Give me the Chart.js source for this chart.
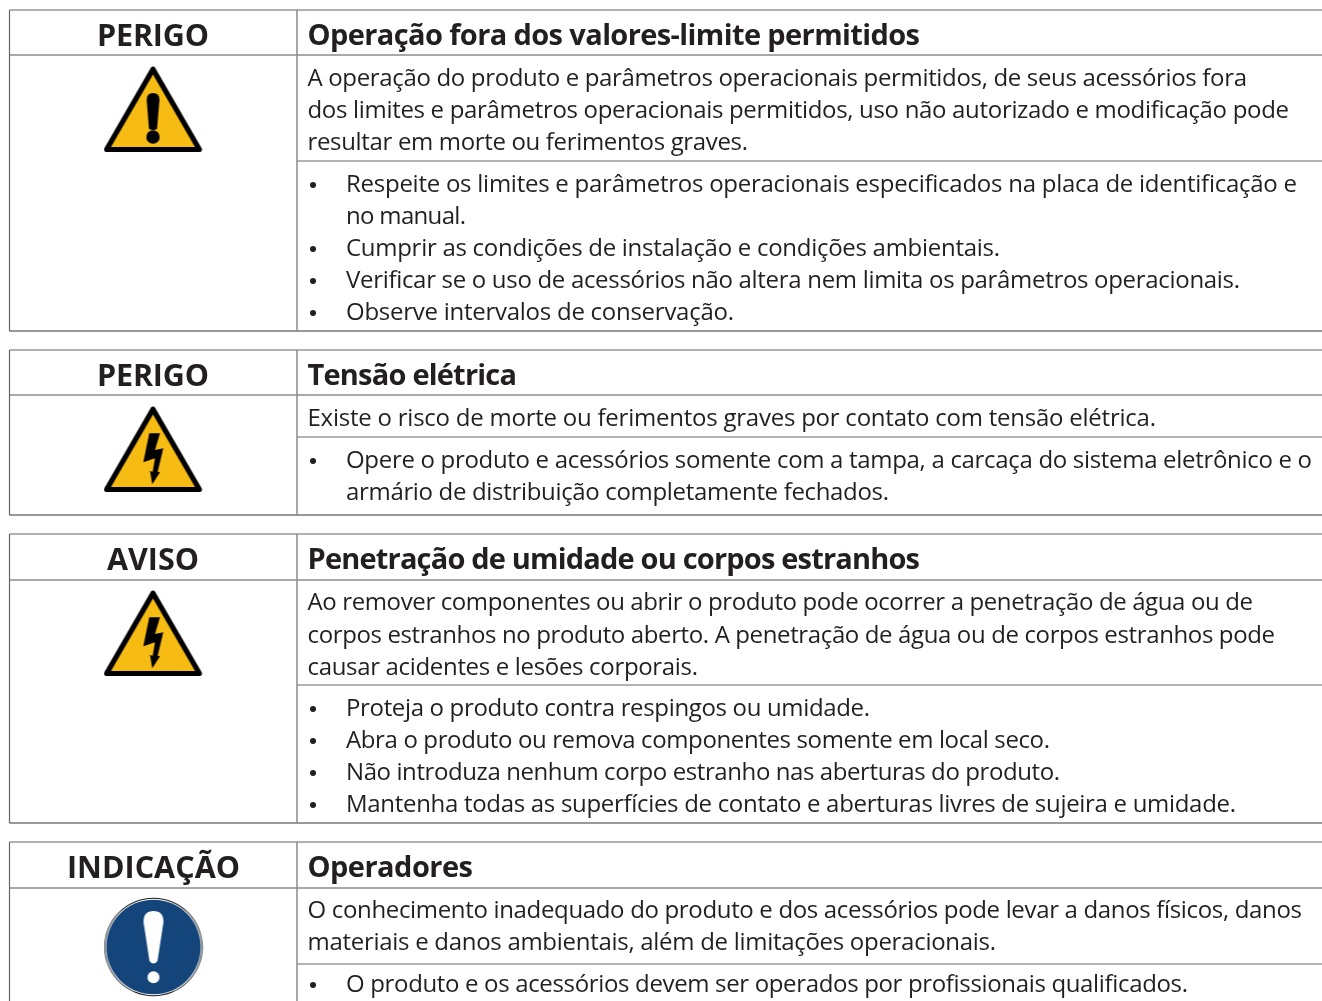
<!DOCTYPE html>
<html lang="pt"><head><meta charset="utf-8"><title>Avisos de segurança</title>
<script src="https://cdn.jsdelivr.net/npm/chart.js@4"></script>
<style>
html,body{margin:0;padding:0;background:#fff;overflow:hidden}
#wrap{position:relative;width:1322px;height:1001px;overflow:hidden}
#c{position:absolute;left:0;top:0}
.t{position:absolute;white-space:pre;font-family:"Open Sans",sans-serif;color:#231f20;line-height:32px;font-size:24px}
.h{font-weight:700;font-size:29px;line-height:40px}
.l{font-size:30.5px}
</style></head><body><div id="wrap"><canvas id="c" width="1322" height="1001"></canvas></div>
<script>
// --- text content ---
const labels = ["PERIGO","PERIGO","AVISO","INDICAÇÃO"];
const labelY = [33.5,373.5,557.5,865.5];
const labelLeft = [97,97,107,67];
const labelRight = [209,209,199,240];
const titles = ["Operação fora dos valores-limite permitidos","Tensão elétrica","Penetração de umidade ou corpos estranhos","Operadores"];
const titleRight = [920,517,920,473];
const bodyLines = [
"A operação do produto e parâmetros operacionais permitidos, de seus acessórios fora",
"dos limites e parâmetros operacionais permitidos, uso não autorizado e modificação pode",
"resultar em morte ou ferimentos graves.",
"Existe o risco de morte ou ferimentos graves por contato com tensão elétrica.",
"Ao remover componentes ou abrir o produto pode ocorrer a penetração de água ou de",
"corpos estranhos no produto aberto. A penetração de água ou de corpos estranhos pode",
"causar acidentes e lesões corporais.",
"O conhecimento inadequado do produto e dos acessórios pode levar a danos físicos, danos",
"materiais e danos ambientais, além de limitações operacionais."];
const bodyY = [77,109,141,417,601,634,666,909,941];
const bodyRight = [1247,1289,748,1156,1253,1275,698,1302,996];
const listLines = [
"Respeite os limites e parâmetros operacionais especificados na placa de identificação e",
"no manual.",
"Cumprir as condições de instalação e condições ambientais.",
"Verificar se o uso de acessórios não altera nem limita os parâmetros operacionais.",
"Observe intervalos de conservação.",
"Opere o produto e acessórios somente com a tampa, a carcaça do sistema eletrônico e o",
"armário de distribuição completamente fechados.",
"Proteja o produto contra respingos ou umidade.",
"Abra o produto ou remova componentes somente em local seco.",
"Não introduza nenhum corpo estranho nas aberturas do produto.",
"Mantenha todas as superfícies de contato e aberturas livres de sujeira e umidade.",
"O produto e os acessórios devem ser operados por profissionais qualificados."];
const listY = [183,215,247,279,311,459,491,707,739,771,803,983];
const listRight = [1297,466,1000,1240,734,1312,889,870,1050,1060,1236,1188];
const bulletY = [185,249,281,313,461,709,741,773,805,985];
// --- table rules ---
const tableTop = [10,350,534,842];
const headRule = [55,395,580,888];
const sepRule = [161,437,685,964];
const tableBottom = [331,515,823,1012];
const colX = [9.5,297];
// --- icons ---
const iconKinds = ["warn","volt","volt","info"];
const iconX = [153.5,153.5,153.5,153.5];
const iconY = [109,449,633,947];

function makeIcon(kind){
  const cv=document.createElement('canvas');
  cv.width=100;cv.height=100;
  const g=cv.getContext('2d');
  const tri=(pts,f)=>{g.beginPath();pts.forEach((p,i)=>i?g.lineTo(p[0],p[1]):g.moveTo(p[0],p[1]));g.closePath();g.fillStyle=f;g.fill();};
  if(kind==='info'){
    g.beginPath();g.arc(50,50,49.2,0,7);g.fillStyle='#1a1a1a';g.fill();
    g.beginPath();g.arc(50,50,48.3,0,7);g.fillStyle='#fff';g.fill();
    g.beginPath();g.arc(50,50,47.3,0,7);g.fillStyle='#14457a';g.fill();
    g.fillStyle='#fff';
    g.beginPath();g.moveTo(40,25);g.quadraticCurveTo(40,14,50,14);g.quadraticCurveTo(60,14,60,25);
    g.lineTo(54,64);g.quadraticCurveTo(50,69,46,64);g.closePath();g.fill();
    g.beginPath();g.arc(50,80.3,6,0,7);g.fill();
  } else {
    g.lineJoin='round';
    g.beginPath();g.moveTo(49.5,10);g.lineTo(3,90.5);g.lineTo(96,90.5);g.closePath();
    g.fillStyle='#000';g.strokeStyle='#000';g.lineWidth=5;g.fill();g.stroke();
    tri([[49.5,15.5],[7.5,88],[91.5,88]],'#f7bc14');
    g.fillStyle='#000';
    if(kind==='warn'){
      g.beginPath();g.moveTo(43.2,41);g.quadraticCurveTo(43.2,34,49.5,34);g.quadraticCurveTo(56,34,56,41);
      g.lineTo(53.5,70);g.quadraticCurveTo(49.5,72,45.5,70);g.closePath();g.fill();
      g.beginPath();g.arc(49.5,78,6.7,0,7);g.fill();
    } else {
      tri([[45.8,34.3],[56.5,34.3],[51.5,51],[59.8,49.3],[54.2,72.7],[56.5,73.3],[48.8,85.3],[46.5,72],[49.2,72.7],[51.5,59.3],[39.8,63.3]],'#000');
    }
  }
  return cv;
}

// --- chart: rules as line datasets, icons as points ---
const rule=(pts,color,w)=>({type:'line',data:pts.map(p=>({x:p[0],y:p[1]})),borderColor:color,borderWidth:w,pointRadius:0,fill:false,tension:0,clip:false});
const sets=[];
tableTop.forEach((t,i)=>{
  sets.push(rule([[colX[1],t],[colX[1],tableBottom[i]]],'#8a8a8a',1.5));
  sets.push(rule([[colX[0],t],[colX[0],tableBottom[i]]],'#666',1.2));
  sets.push(rule([[colX[0],t],[1322,t]],'#666',1.2));
  sets.push(rule([[colX[0],headRule[i]],[1322,headRule[i]]],'#555',1.2));
  sets.push(rule([[colX[1],sepRule[i]],[1322,sepRule[i]]],'#9a9a9a',1.5));
  sets.push(rule([[colX[0],tableBottom[i]],[1322,tableBottom[i]]],'#777',1.5));
});
sets.push({type:'scatter',data:iconX.map((x,i)=>({x,y:iconY[i]})),pointStyle:iconKinds.map(makeIcon),pointRadius:50,showLine:false});
sets.push({type:'scatter',data:bulletY.map(y=>({x:313,y})),pointStyle:'circle',pointRadius:3,backgroundColor:'#231f20',borderWidth:0,showLine:false});

new Chart(document.getElementById('c'),{
  data:{datasets:sets},
  options:{responsive:false,animation:false,events:[],
    layout:{padding:0,autoPadding:false},
    plugins:{legend:{display:false},tooltip:{enabled:false},title:{display:false}},
    scales:{x:{type:'linear',min:0,max:1322,display:false},y:{type:'linear',min:0,max:1001,reverse:true,display:false}}
  }
});

// --- real text, fitted per line ---
const wrap=document.getElementById('wrap');
function put(txt,left,cy,right,cls){
  const d=document.createElement('div');d.className=cls;d.textContent=txt;wrap.appendChild(d);
  const lh=parseFloat(getComputedStyle(d).lineHeight);
  d.style.top=(cy-lh/2)+'px';
  d.style.left=left+'px';
  const w=d.getBoundingClientRect().width;
  if(right) d.style.letterSpacing=((right-left-w)/Math.max(1,txt.length-1))+'px';
}
labels.forEach((t,i)=>put(t,labelLeft[i],labelY[i],labelRight[i],'t h l'));
titles.forEach((t,i)=>put(t,307.5,labelY[i],titleRight[i],'t h'));
bodyLines.forEach((t,i)=>put(t,307.5,bodyY[i],bodyRight[i],'t'));
listLines.forEach((t,i)=>put(t,346,listY[i],listRight[i],'t'));
</script></body></html>
